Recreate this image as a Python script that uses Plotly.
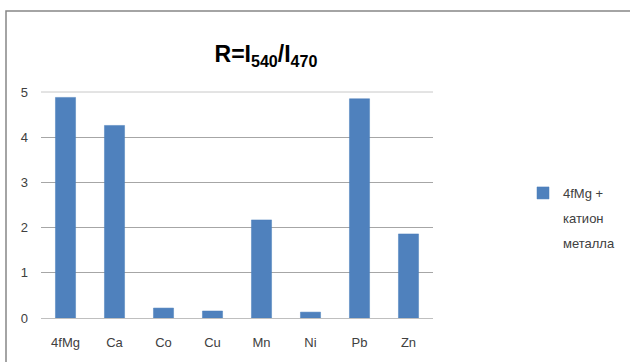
import plotly.graph_objects as go

categories = ["4fMg", "Ca", "Co", "Cu", "Mn", "Ni", "Pb", "Zn"]
ratio_values = [4.88, 4.26, 0.22, 0.155, 2.17, 0.13, 4.85, 1.86]
series_name = "4fMg +"
series_name_rest = ["катион", "металла"]
y_ticks = [0, 1, 2, 3, 4, 5]

W, H = 630, 362
L, R, T, B = 41, 197, 92, 44
pw, ph = W - L - R, H - T - B

def px_x(x):
    return (x - L) / pw

def px_y(y):
    return (H - B - y) / ph

font_family = "Liberation Sans, Arial, sans-serif"

fig = go.Figure()
fig.add_trace(go.Bar(
    x=categories,
    y=ratio_values,
    name=series_name,
    marker=dict(color="#4F81BD", line=dict(color="#4A7EBB", width=0.5)),
    showlegend=True,
))

# continuation lines of the legend label, spaced like the legend text
annotations = [
    dict(
        text=t, xref="paper", yref="paper",
        x=px_x(561), y=px_y(193 + 25 * (i + 1)),
        xanchor="left", yanchor="middle", showarrow=False,
        font=dict(size=13, color="#404040"),
    )
    for i, t in enumerate(series_name_rest)
]

fig.update_layout(
    width=W,
    height=H,
    margin=dict(l=L, r=R, t=T, b=B, autoexpand=False),
    paper_bgcolor="white",
    plot_bgcolor="white",
    bargap=0.59,
    font=dict(family=font_family, size=13, color="#404040"),
    title=dict(
        text="<b>R=I<sub>540</sub>/I<sub>470</sub></b>",
        x=px_x(266), xref="paper", xanchor="center",
        y=1 - 54 / H, yref="container", yanchor="middle",
        font=dict(family=font_family, size=23, color="black"),
    ),
    xaxis=dict(
        showgrid=False,
        showline=True,
        linecolor="#BFBFBF",
        linewidth=1,
        ticks="",
        tickfont=dict(size=13, color="#404040"),
        ticklabelstandoff=12,
    ),
    yaxis=dict(
        range=[0, 5],
        tickvals=y_ticks,
        showgrid=True,
        gridcolor="#A6A6A6",
        gridwidth=1,
        zeroline=False,
        showline=False,
        ticks="",
        tickfont=dict(size=13, color="#404040"),
        ticklabelstandoff=12,
    ),
    legend=dict(
        x=px_x(523), y=px_y(193),
        xanchor="left", yanchor="middle",
        font=dict(size=13, color="#404040"),
        bgcolor="rgba(0,0,0,0)",
        itemwidth=30,
    ),
    annotations=annotations,
    shapes=[
        dict(
            type="rect", xref="paper", yref="paper",
            x0=px_x(6), x1=px_x(640), y0=px_y(380), y1=px_y(11),
            line=dict(color="#868686", width=1.5),
            fillcolor="rgba(0,0,0,0)", layer="below",
        ),
        dict(
            type="line", xref="paper", yref="paper",
            x0=0, x1=1, y0=1, y1=1,
            line=dict(color="#C8C8C8", width=1), layer="below",
        ),
    ],
)

fig.write_html("out.html")
